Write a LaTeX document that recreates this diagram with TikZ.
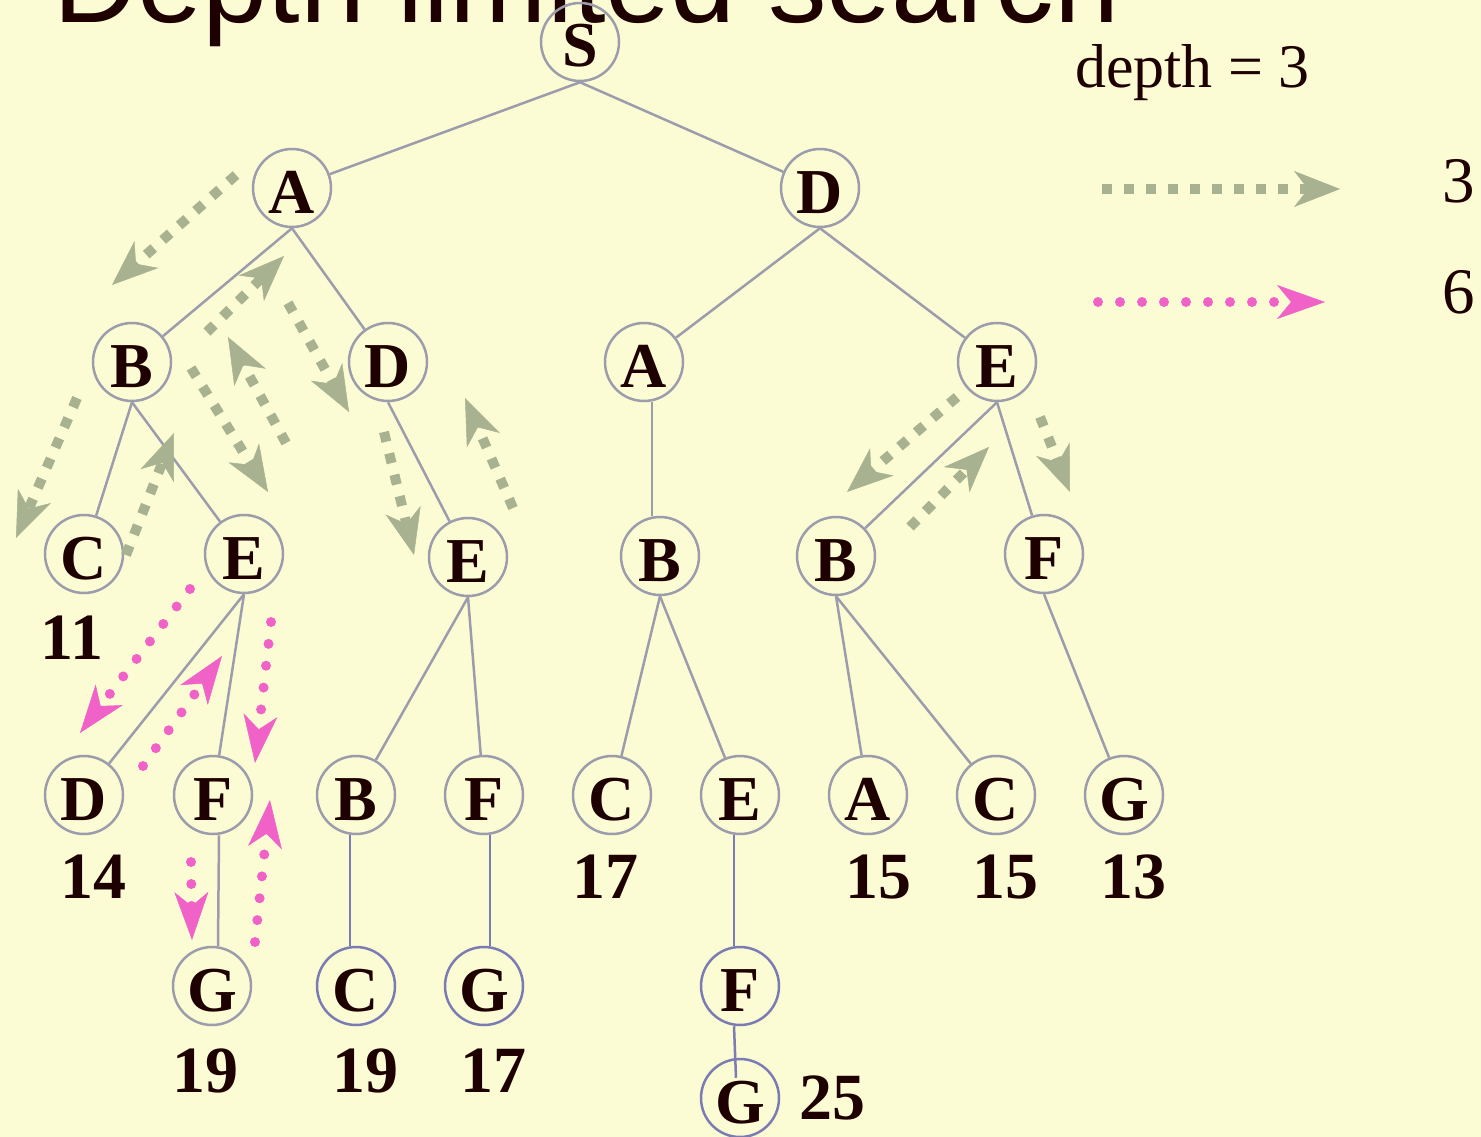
\documentclass[tikz,border=0pt]{standalone}
\usepackage{fontspec}
\setmainfont{Liberation Serif}
\newfontfamily\titlefont{Liberation Sans}
\usetikzlibrary{arrows.meta, positioning}
\definecolor{bgyellow}{HTML}{FCFCD4}
\definecolor{inkbrown}{HTML}{1E0000}
\definecolor{edgegray}{HTML}{9C9CAC}
\definecolor{edgeblue}{HTML}{7C7CB4}
\definecolor{depthgreen}{HTML}{A8B290}
\definecolor{depthpink}{HTML}{F062C8}

\begin{document}
\begin{tikzpicture}[
    x=1pt, y=-1pt,
    every node/.style={text=inkbrown},
    treenode/.style={circle, draw=#1, line width=2.5pt, minimum size=78pt, inner sep=0pt, text height=50pt, text depth=0pt, font=\fontsize{64}{64}\selectfont\bfseries},
    treenode/.default=edgegray,
    cost/.style={inner sep=0pt, font=\fontsize{66}{66}\selectfont\bfseries},
    branch/.style={draw=#1, line width=2.5pt},
    branch/.default=edgegray,
    depththree/.style={depthgreen, line width=10pt, dash pattern=on 10pt off 12pt, -{Stealth[length=46pt, width=36pt, inset=14pt, line width=0.5pt]}},
    depthsix/.style={depthpink, line width=10pt, line cap=round, dash pattern=on 0pt off 22pt, -{Stealth[length=48pt, width=34pt, inset=14pt, line width=0.5pt]}},
]

% Frame
\useasboundingbox (0,0) rectangle (1481,1137);
\clip (0,0) rectangle (1481,1137);
\fill[bgyellow] (0,0) rectangle (1481,1137);

% Title (cut by the top edge)
\node[anchor=base west, inner sep=0pt, font=\titlefont\fontsize{117}{117}\selectfont] (title) at (53,23) {Depth limited search};
\node[anchor=base west, inner sep=0pt, font=\fontsize{62}{62}\selectfont] (depthlabel) at (1075,88) {depth = 3};

% Root and level 1
\node[treenode] (s) at (580,42) {S};
\node[treenode] (sa) at (292,188) {A};
\node[treenode] (sd) at (820,188) {D};

% Level 2
\node[treenode] (sab) at (132,362) {B};
\node[treenode] (sad) at (388,362) {D};
\node[treenode] (sda) at (644,362) {A};
\node[treenode] (sde) at (997,362) {E};

% Level 3
\node[treenode] (sabc) at (84,554) {C};
\node[treenode] (sabe) at (244,554) {E};
\node[treenode] (sade) at (468,557) {E};
\node[treenode] (sdab) at (660,556) {B};
\node[treenode] (sdeb) at (836,556) {B};
\node[treenode] (sdef) at (1044,554) {F};

% Level 4
\node[treenode] (sabed) at (84,795) {D};
\node[treenode] (sabef) at (213,795) {F};
\node[treenode] (sadeb) at (356,795) {B};
\node[treenode] (sadef) at (484,795) {F};
\node[treenode] (sdabc) at (612,795) {C};
\node[treenode] (sdabe) at (740,795) {E};
\node[treenode] (sdeba) at (868,795) {A};
\node[treenode] (sdebc) at (996,795) {C};
\node[treenode] (sdefg) at (1124,795) {G};

% Level 5 and 6
\node[treenode] (sabefg) at (212,986) {G};
\node[treenode=edgeblue] (sadebc) at (356,986) {C};
\node[treenode=edgeblue] (sadefg) at (484,986) {G};
\node[treenode=edgeblue] (sdabef) at (740,986) {F};
\node[treenode=edgeblue] (sdabefg) at (740,1098) {G};

% Path costs
\node[cost, below=21pt of sabc, xshift=-12pt] (sabc-cost) {11};
\node[cost, below=19pt of sabed, xshift=9pt] (sabed-cost) {14};
\node[cost, below=19pt of sdabc, xshift=-7pt] (sdabc-cost) {17};
\node[cost, below=19pt of sdeba, xshift=10pt] (sdeba-cost) {15};
\node[cost, below=19pt of sdebc, xshift=9pt] (sdebc-cost) {15};
\node[cost, below=19pt of sdefg, xshift=9pt] (sdefg-cost) {13};
\node[cost, below=22pt of sabefg, xshift=-7pt] (sabefg-cost) {19};
\node[cost, below=22pt of sadebc, xshift=9pt] (sadebc-cost) {19};
\node[cost, below=22pt of sadefg, xshift=9pt] (sadefg-cost) {17};
\node[cost, right=19pt of sdabefg] (sdabefg-cost) {25};

% Branches
\draw[branch] (s.south) -- (sa);
\draw[branch] (s.south) -- (sd);
\draw[branch] (sa.south) -- (sab);
\draw[branch] (sa.south) -- (sad);
\draw[branch] (sd.south) -- (sda);
\draw[branch] (sd.south) -- (sde);
\draw[branch] (sab.south) -- (sabc);
\draw[branch] (sab.south) -- (sabe);
\draw[branch] (sad.south) -- (sade);
\draw[branch] ([xshift=8pt]sda.south) -- ([xshift=-8pt]sdab.north);
\draw[branch] (sde.south) -- (sdeb);
\draw[branch] (sde.south) -- (sdef);
\draw[branch] (sabe.south) -- (sabed);
\draw[branch] (sabe.south) -- (sabef);
\draw[branch] (sade.south) -- (sadeb);
\draw[branch] (sade.south) -- (sadef);
\draw[branch] (sdab.south) -- (sdabc);
\draw[branch] (sdab.south) -- (sdabe);
\draw[branch] (sdeb.south) -- (sdeba);
\draw[branch] (sdeb.south) -- (sdebc);
\draw[branch] (sdef.south) -- (sdefg);
\draw[branch] ([xshift=6pt]sabef.south) -- ([xshift=6pt]sabefg.north);
\draw[branch=edgeblue] ([xshift=-6pt]sadeb.south) -- ([xshift=-6pt]sadebc.north);
\draw[branch=edgeblue] ([xshift=6pt]sadef.south) -- ([xshift=6pt]sadefg.north);
\draw[branch=edgeblue] ([xshift=-6pt]sdabe.south) -- ([xshift=-6pt]sdabef.north);
\draw[branch=edgeblue] ([xshift=-6pt]sdabef.south) -- ([xshift=-4pt, yshift=-20pt]sdabefg.north);

% Traversal with depth 3
\foreach \n/\p in {g1-s/{236,175}, g1-e/{112,285}, g2-s/{77,398}, g2-e/{16,538},
    g3-s/{126,555}, g3-e/{174,433}, g4-s/{191,368}, g4-e/{268,492},
    g5-s/{286,443}, g5-e/{228,337}, g6-s/{207,332}, g6-e/{284,256},
    g7-s/{288,303}, g7-e/{349,412}, g8-s/{384,432}, g8-e/{414,555},
    g9-s/{513,508}, g9-e/{465,398}, g10-s/{957,397}, g10-e/{847,492},
    g11-s/{910,527}, g11-e/{989,447}, g12-s/{1040,417}, g12-e/{1070,492}}
    \coordinate (\n) at (\p);
\foreach \i in {1,...,12}
    \draw[depththree] (g\i-s) -- (g\i-e);

% Traversal with depth 6
\foreach \n/\p in {p1-s/{190,589}, p1-e/{80,733}, p2-s/{143,766}, p2-e/{222,656},
    p3-s/{271,622}, p3-e/{255,763}, p4-s/{191,862}, p4-e/{192,940},
    p5-s/{255,942}, p5-e/{270,800}}
    \coordinate (\n) at (\p);
\foreach \i in {1,...,5}
    \draw[depthsix] (p\i-s) -- (p\i-e);

% Legend
\node[anchor=base west, inner sep=0pt, font=\fontsize{65}{65}\selectfont] (leg3) at (1442,202) {3};
\node[anchor=base west, inner sep=0pt, font=\fontsize{65}{65}\selectfont] (leg6) at (1442,313) {6};
\coordinate (leg3-s) at (1102,189);
\coordinate (leg3-e) at (1340,189);
\coordinate (leg6-s) at (1098,302);
\coordinate (leg6-e) at (1325,302);
\draw[depththree] (leg3-s) -- (leg3-e);
\draw[depthsix] (leg6-s) -- (leg6-e);

\end{tikzpicture}
\end{document}
